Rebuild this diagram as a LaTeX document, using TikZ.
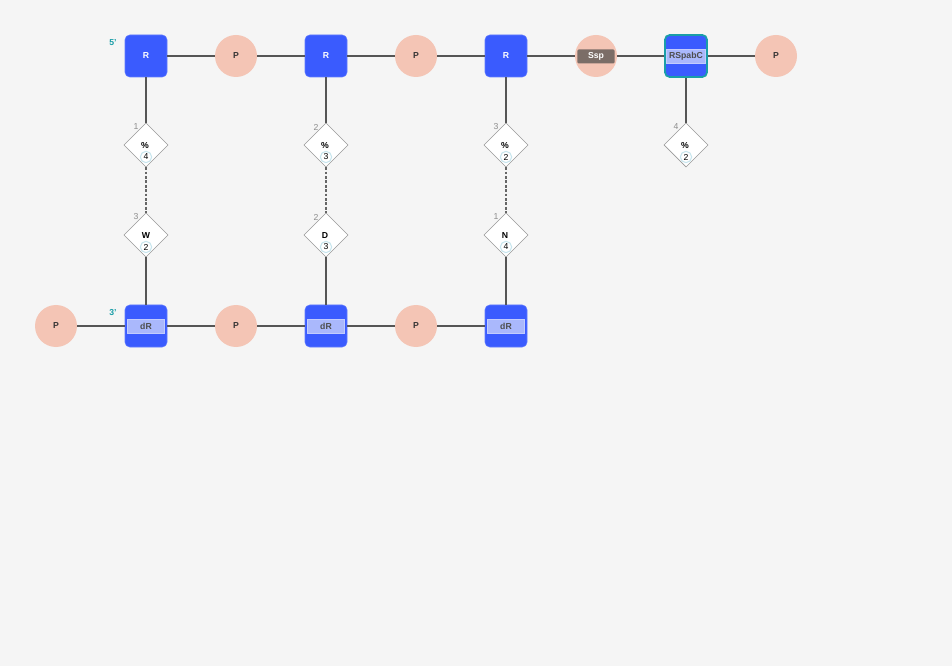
\documentclass[tikz,border=0pt]{standalone}
\usepackage{fontspec}
\setmainfont{Liberation Sans}
\usetikzlibrary{shapes.geometric}
\definecolor{bg}{HTML}{F5F5F5}
\definecolor{rblue}{HTML}{3A5BFE}
\definecolor{pink}{HTML}{F4C5B5}
\definecolor{lbl}{HTML}{AAB8FC}
\definecolor{sspc}{HTML}{7B6D67}
\definecolor{teal}{HTML}{1A9EA8}
\definecolor{edge}{HTML}{555555}
\definecolor{ring}{HTML}{C8E6EE}
\tikzset{
  x=0.75pt,y=-0.75pt,
  font=\fontsize{6.5}{7}\selectfont\bfseries,
  rbox/.style={draw=rblue!80!white,fill=rblue,rounded corners=3.5pt,minimum size=31.5pt,inner sep=0pt,text=white},
  pcirc/.style={circle,fill=pink,minimum size=31.5pt,inner sep=0pt,text=black!80},
  dia/.style={diamond,draw=black!40,fill=white,minimum size=33pt,inner sep=0pt,line width=0.4pt},
  bond/.style={draw=edge,line width=1.1pt},
  hbond/.style={draw=edge!90!white,line width=1.1pt,dash pattern=on 2pt off 1.3pt},
  lab/.style={fill=lbl,draw=lbl!70!white,minimum width=28pt,minimum height=10.5pt,inner sep=0pt,text=black!70},
  num/.style={text=black!45,font=\fontsize{6.5}{7}\selectfont},
  ringn/.style={circle,draw=ring,line width=0.8pt,inner sep=0.6pt,minimum size=8.5pt,font=\fontsize{6.5}{7}\selectfont,fill=white},
  prime/.style={text=teal,font=\fontsize{6.5}{7}\selectfont\bfseries}
}
\begin{document}
\begin{tikzpicture}
\fill[bg] (0,0) rectangle (952,666);
\useasboundingbox (0,0) rectangle (952,666);
% top row
\node[rbox] (r1) at (146,56) {R};
\node[pcirc] (p1) at (236,56) {P};
\node[rbox] (r2) at (326,56) {R};
\node[pcirc] (p2) at (416,56) {P};
\node[rbox] (r3) at (506,56) {R};
\node[pcirc] (s1) at (596,56) {};
\node[fill=sspc,text=white,minimum width=28pt,minimum height=10.5pt,inner sep=0pt,rounded corners=1pt] (ssp) at (596,56.5) {Ssp};
\node[rbox,draw=teal,line width=1.3pt] (r4) at (686,56) {};
\node[lab,minimum width=29pt] (r4l) at (686,56.5) {RSpabC};
\node[pcirc] (p3) at (776,56) {P};
% bottom row
\node[pcirc] (p4) at (56,326) {P};
\node[rbox] (d1) at (146,326) {};
\node[lab] (d1l) at (146,326.5) {dR};
\node[pcirc] (p5) at (236,326) {P};
\node[rbox] (d2) at (326,326) {};
\node[lab] (d2l) at (326,326.5) {dR};
\node[pcirc] (p6) at (416,326) {P};
\node[rbox] (d3) at (506,326) {};
\node[lab] (d3l) at (506,326.5) {dR};
% diamonds
\node[dia] (a1) at (146,145) {};
\node[dia] (b1) at (146,235) {};
\node[dia] (a2) at (326,145) {};
\node[dia] (b2) at (326,235) {};
\node[dia] (a3) at (506,145) {};
\node[dia] (b3) at (506,235) {};
\node[dia] (a4) at (686,145) {};
% diamond contents
\node (a1t) at (145,145.5) {\%};   \node[ringn] (a1n) at (146,157) {4};
\node (b1t) at (146,235.5) {W};    \node[ringn] (b1n) at (146,247) {2};
\node (a2t) at (325,145.5) {\%};   \node[ringn] (a2n) at (326,157) {3};
\node (b2t) at (325,235.5) {D};    \node[ringn] (b2n) at (326,247) {3};
\node (a3t) at (505,145.5) {\%};   \node[ringn] (a3n) at (506,157) {2};
\node (b3t) at (505,235.5) {N};    \node[ringn] (b3n) at (506,247) {4};
\node (a4t) at (685,145.5) {\%};   \node[ringn] (a4n) at (686,157) {2};
% numbers
\node[num] (n1) at (136,127) {1};
\node[num] (n2) at (136,217) {3};
\node[num] (n3) at (316,127) {2};
\node[num] (n4) at (316,217) {2};
\node[num] (n5) at (496,127) {3};
\node[num] (n6) at (496,217) {1};
\node[num] (n7) at (676,127) {4};
\node[prime] (pr5) at (113,43) {5'};
\node[prime] (pr3) at (113,313) {3'};
% connectors
\draw[bond] (r1) -- (p1); \draw[bond] (p1) -- (r2); \draw[bond] (r2) -- (p2);
\draw[bond] (p2) -- (r3); \draw[bond] (r3) -- (s1); \draw[bond] (s1) -- (r4);
\draw[bond] (r4) -- (p3);
\draw[bond] (p4) -- (d1); \draw[bond] (d1) -- (p5); \draw[bond] (p5) -- (d2);
\draw[bond] (d2) -- (p6); \draw[bond] (p6) -- (d3);
\draw[bond] (r1) -- (a1.north); \draw[hbond] (a1.south) -- (b1.north); \draw[bond] (b1.south) -- (d1);
\draw[bond] (r2) -- (a2.north); \draw[hbond] (a2.south) -- (b2.north); \draw[bond] (b2.south) -- (d2);
\draw[bond] (r3) -- (a3.north); \draw[hbond] (a3.south) -- (b3.north); \draw[bond] (b3.south) -- (d3);
\draw[bond] (r4) -- (a4.north);
\end{tikzpicture}
\end{document}
